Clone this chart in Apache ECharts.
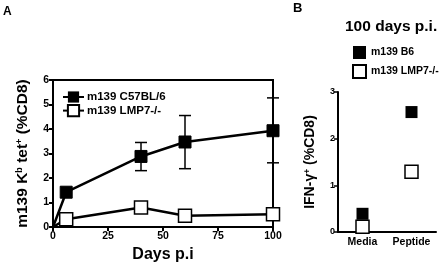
<!DOCTYPE html>
<html><head><meta charset="utf-8">
<script src="https://cdn.jsdelivr.net/npm/echarts@6/dist/echarts.min.js"></script>
<style>html,body{margin:0;padding:0;background:#fff}#c{width:448px;height:269px}</style>
</head><body><div id="c"></div>
<script>
// Panel A
const daysA = [0, 6, 40, 60, 100];
const c57Mean = [0, 1.42, 2.88, 3.47, 3.93];
const c57Low = [null, null, 2.3, 2.38, 2.62];
const c57High = [null, null, 3.45, 4.55, 5.27];
const lmpMean = [0, 0.32, 0.8, 0.46, 0.52];
const xTicksA = [0, 25, 50, 75, 100];
const yTicksA = [0, 1, 2, 3, 4, 5, 6];
// Panel B
const catsB = ['Media', 'Peptide'];
const b6Vals = [0.39, 2.57];
const lmpBVals = [0.11, 1.29];
const yTicksB = [0, 1, 2, 3];

const F = 'Liberation Sans, Arial, sans-serif';
const chart = echarts.init(document.getElementById('c'), null, {renderer: 'canvas'});

function lineData(xs, ys) {
  return xs.map((d, i) => i === 0 ? {value: [d, ys[i]], symbol: 'none'} : [d, ys[i]]);
}
const errData = daysA.map((d, i) => [d, c57Low[i], c57High[i]]).filter(r => r[1] != null);

chart.setOption({
  animation: false,
  textStyle: {fontFamily: F},
  title: [
    {text: 'A', left: 3, top: 6, padding: 0, textStyle: {fontSize: 12, fontWeight: 'bold', color: '#000', fontFamily: F}},
    {text: 'B', left: 293, top: 2, padding: 0, textStyle: {fontSize: 13, fontWeight: 'bold', color: '#000', fontFamily: F}},
    {text: '100 days p.i.', left: 345, top: 19, padding: 0, textStyle: {fontSize: 15.5, fontWeight: 'bold', color: '#000', fontFamily: F}}
  ],
  legend: [
    {orient: 'vertical', left: 57, top: 86, itemGap: 1, itemWidth: 21, itemHeight: 14,
     data: ['m139 C57BL/6', 'm139 LMP7-/-'],
     textStyle: {fontSize: 11.5, fontWeight: 'bold', color: '#000', fontFamily: F, padding: [0, 0, 0, -2]}},
    {orient: 'vertical', left: 347, top: 41, itemGap: 5, itemWidth: 13, itemHeight: 13,
     data: ['m139 B6', 'm139 LMP7-/- (B)'],
     formatter: n => n.replace(' (B)', ''),
     textStyle: {fontSize: 10.5, fontWeight: 'bold', color: '#000', fontFamily: F}}
  ],
  grid: [
    {left: 53, right: 175, top: 80, bottom: 42, show: true, borderColor: '#000', borderWidth: 2, backgroundColor: 'transparent'},
    {left: 338, right: 12, top: 92, bottom: 37}
  ],
  xAxis: [
    {gridIndex: 0, type: 'value', min: 0, max: 100, interval: 25,
     name: 'Days p.i', nameLocation: 'middle', nameGap: 17,
     nameTextStyle: {fontSize: 16, fontWeight: 'bold', color: '#000', fontFamily: F},
     axisLine: {lineStyle: {color: '#000', width: 2}},
     axisTick: {lineStyle: {color: '#000', width: 2}, length: 4},
     axisLabel: {fontSize: 10.5, fontWeight: 'bold', color: '#000', margin: 4, fontFamily: F},
     splitLine: {show: false}},
    {gridIndex: 1, type: 'category', data: catsB, boundaryGap: true,
     axisLine: {lineStyle: {color: '#000', width: 2}},
     axisTick: {alignWithLabel: true, interval: 0, lineStyle: {color: '#000', width: 1.5}, length: 4},
     axisLabel: {interval: 0, hideOverlap: false, fontSize: 10.5, fontWeight: 'bold', color: '#000', margin: 5, fontFamily: F}}
  ],
  yAxis: [
    {gridIndex: 0, type: 'value', min: 0, max: 6, interval: 1,
     name: '{n|m139 K}{s|b}{n| tet}{s|+}{n| (%CD8)}', nameLocation: 'middle', nameGap: 22, nameRotate: 90,
     nameTextStyle: {rich: {
       n: {fontSize: 15.5, fontWeight: 'bold', color: '#000', fontFamily: F},
       s: {fontSize: 9, fontWeight: 'bold', color: '#000', fontFamily: F, padding: [0, 0, 7, 0]}}},
     axisLine: {show: true, lineStyle: {color: '#000', width: 2}},
     axisTick: {show: true, lineStyle: {color: '#000', width: 2}, length: 4},
     axisLabel: {fontSize: 10.5, fontWeight: 'bold', color: '#000', margin: 4, fontFamily: F},
     splitLine: {show: false}},
    {gridIndex: 1, type: 'value', min: 0, max: 3, interval: 1,
     name: '{n|IFN-γ}{s|+}{n| (%CD8)}', nameLocation: 'middle', nameGap: 20, nameRotate: 90,
     nameTextStyle: {rich: {
       n: {fontSize: 14, fontWeight: 'bold', color: '#000', fontFamily: F},
       s: {fontSize: 8.5, fontWeight: 'bold', color: '#000', fontFamily: F, padding: [0, 0, 6, 0]}}},
     axisLine: {show: true, lineStyle: {color: '#000', width: 2}},
     axisTick: {show: true, lineStyle: {color: '#000', width: 1.5}, length: 4},
     axisLabel: {fontSize: 9, fontWeight: 'bold', color: '#000', margin: 3, fontFamily: F},
     splitLine: {show: false}}
  ],
  series: [
    {name: 'errC57', type: 'custom', xAxisIndex: 0, yAxisIndex: 0, data: errData, z: 1,
     itemStyle: {color: '#000'},
     renderItem: function (params, api) {
       const x = api.value(0);
       const lo = api.coord([x, api.value(1)]);
       const hi = api.coord([x, api.value(2)]);
       const w = 6;
       const st = {stroke: '#000', lineWidth: 1.5};
       return {type: 'group', children: [
         {type: 'line', shape: {x1: lo[0], y1: lo[1], x2: hi[0], y2: hi[1]}, style: st},
         {type: 'line', shape: {x1: lo[0] - w, y1: lo[1], x2: lo[0] + w, y2: lo[1]}, style: st},
         {type: 'line', shape: {x1: hi[0] - w, y1: hi[1], x2: hi[0] + w, y2: hi[1]}, style: st}
       ]};
     }},
    {name: 'm139 LMP7-/-', type: 'line', xAxisIndex: 0, yAxisIndex: 0, data: lineData(daysA, lmpMean),
     symbol: 'rect', symbolSize: 13, showAllSymbol: true, z: 3,
     lineStyle: {color: '#000', width: 2.5}, itemStyle: {color: '#fff', borderColor: '#000', borderWidth: 1.5}},
    {name: 'm139 C57BL/6', type: 'line', xAxisIndex: 0, yAxisIndex: 0, data: lineData(daysA, c57Mean),
     symbol: 'rect', symbolSize: 12, showAllSymbol: true, z: 4,
     lineStyle: {color: '#000', width: 2.5}, itemStyle: {color: '#000', borderColor: '#000'}},
    {name: 'm139 LMP7-/- (B)', type: 'scatter', xAxisIndex: 1, yAxisIndex: 1, data: lmpBVals,
     symbol: 'rect', symbolSize: 13, z: 3,
     itemStyle: {color: '#fff', borderColor: '#000', borderWidth: 1.5, opacity: 1}},
    {name: 'm139 B6', type: 'scatter', xAxisIndex: 1, yAxisIndex: 1, data: b6Vals,
     symbol: 'rect', symbolSize: 12, z: 2,
     itemStyle: {color: '#000', opacity: 1}}
  ]
});
</script></body></html>
